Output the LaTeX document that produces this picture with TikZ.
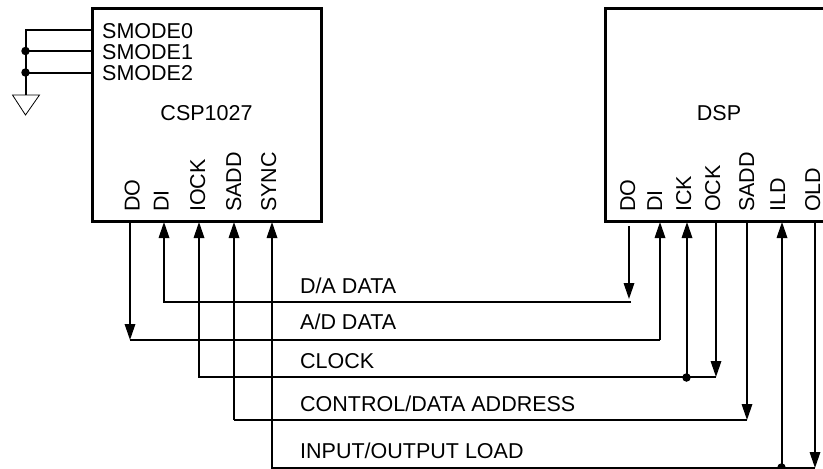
\documentclass[tikz,border=0pt]{standalone}
\usepackage{fontspec}
\setmainfont{Liberation Sans}
\usetikzlibrary{arrows.meta}
\tikzset{
  x=1pt,y=-1pt,
  boxline/.style={line width=3.1pt,draw=black},
  wire/.style={line width=1.75pt,draw=black},
  sig/.style={wire,-{Triangle[length=16pt,width=10.5pt]}},
  lab/.style={font=\fontsize{21.5pt}{22pt}\selectfont,inner sep=0pt,anchor=base west,text=black},
  pin/.style={lab,rotate=90},
  dot/.style={circle,fill=black,inner sep=0pt,minimum size=8.5pt},
  gnd/.style={line width=0.8pt,draw=black,line join=miter},
}
\begin{document}
\begin{tikzpicture}
\useasboundingbox (0,0) rectangle (823,469);
% left chip
\coordinate (ltl) at (92.5,8.5);
\coordinate (lbr) at (321.5,221.5);
\draw[boxline] (ltl) rectangle (lbr);
\node[lab] (s0) at (102,38.5) {SMODE0};
\node[lab] (s1) at (102,59.5) {SMODE1};
\node[lab] (s2) at (102,80) {SMODE2};
\node[lab,anchor=base] (csp) at (206.5,120) {CSP1027};
\node[pin] (ldo) at (139.5,212) {DO};
\node[pin] (ldi) at (168.5,212) {DI};
\node[pin] (liock) at (205,212) {IOCK};
\node[pin] (lsadd) at (241,212) {SADD};
\node[pin] (lsync) at (276,212) {SYNC};
% right chip
\coordinate (rtl) at (605.5,8.5);
\coordinate (rbl) at (605.5,221.5);
\coordinate (rtr) at (830,8.5);
\coordinate (rbr) at (830,221.5);
\draw[boxline] (rtr) -- (rtl) -- (rbl) -- (rbr);
\node[lab,anchor=base] (dsp) at (719,120) {DSP};
\node[pin] (rdo) at (635,212) {DO};
\node[pin] (rdi) at (662,212) {DI};
\node[pin] (rick) at (691,212) {ICK};
\node[pin] (rock) at (720,212) {OCK};
\node[pin] (rsadd) at (754,212) {SADD};
\node[pin] (rild) at (785,212) {ILD};
\node[pin] (rold) at (820,212) {OLD};
% ground
\coordinate (g0) at (92,30);
\coordinate (g1) at (92,51);
\coordinate (g2) at (92,73);
\coordinate (gt0) at (26,30);
\node[dot] (j1) at (25.5,51) {};
\node[dot] (j2) at (25.5,72.5) {};
\coordinate (gb) at (26,95);
\draw[wire] (g0) -- (gt0) -- (gb);
\draw[wire] (g1) -- (gt0 |- g1);
\draw[wire] (g2) -- (gt0 |- g2);
\draw[gnd] (12.5,95) -- (39.5,95) -- (25.5,115) -- cycle;
% signal labels
\node[lab] (da) at (300,293) {D/A DATA};
\node[lab] (ad) at (300,329) {A/D DATA};
\node[lab] (clk) at (300,368) {CLOCK};
\node[lab] (cda) at (300,411.5) {CONTROL/DATA ADDRESS};
\node[lab] (iol) at (300,458) {INPUT/OUTPUT LOAD};
% D/A DATA
\coordinate (a0) at (629,226);
\coordinate (a1) at (629,299);
\coordinate (a2) at (631,302);
\coordinate (a3) at (164,302);
\coordinate (a4) at (164,222);
\draw[sig] (a0) -- (a1);
\draw[sig] (a2) -- (a3) -- (a4);
% A/D DATA
\coordinate (b0) at (660,222);
\coordinate (b1) at (660,340);
\coordinate (b2) at (130,340);
\coordinate (b3) at (130,222);
\draw[sig] (b0 |- b1) -- (b0);
\draw[wire] (b1) -- (b2);
\draw[sig] (b3) -- (b2);
% CLOCK
\coordinate (c0) at (716,222);
\coordinate (c1) at (716,377);
\node[dot] (jc) at (686.5,377.5) {};
\coordinate (cj) at (687,377);
\coordinate (c2) at (199,377);
\coordinate (c3) at (199,222);
\draw[sig] (c0) -- (c1);
\draw[wire] (c1) -- (cj);
\draw[sig] (cj) -- (c2) -- (c3);
\draw[sig] (cj) -- (687,222);
% CONTROL/DATA ADDRESS
\coordinate (d0) at (747,222);
\coordinate (d1) at (747,420);
\coordinate (d2) at (234,420);
\coordinate (d3) at (234,222);
\draw[sig] (d0) -- (d1);
\draw[wire] (d1) -- (d2);
\draw[sig] (d2) -- (d3);
% INPUT/OUTPUT LOAD
\coordinate (e0) at (815,222);
\coordinate (e1) at (815,468);
\node[dot] (je) at (781.5,467.5) {};
\coordinate (ej) at (782,468);
\coordinate (e2) at (272,468);
\coordinate (e3) at (272,222);
\draw[sig] (e0) -- (e1);
\draw[wire] (e1) -- (ej);
\draw[sig] (ej) -- (e2) -- (e3);
\draw[sig] (ej) -- (782,222);
\end{tikzpicture}
\end{document}
